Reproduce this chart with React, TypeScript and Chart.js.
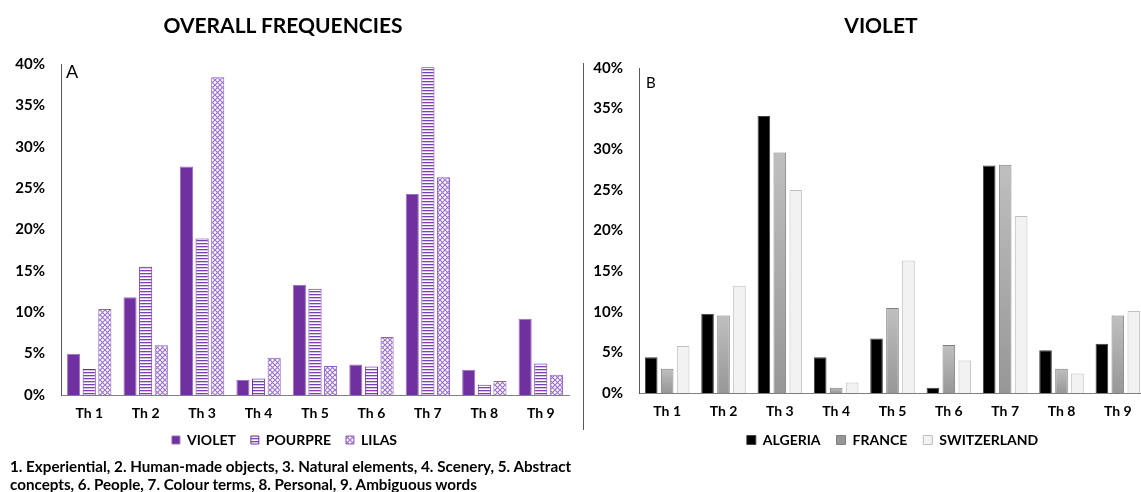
import React, { useEffect, useRef } from 'react';
import { Chart, registerables } from 'chart.js';

Chart.register(...registerables);

// ---- Data ----
const themes = ['Th 1', 'Th 2', 'Th 3', 'Th 4', 'Th 5', 'Th 6', 'Th 7', 'Th 8', 'Th 9'];
const violetOverall = [5.0, 11.8, 27.6, 1.8, 13.3, 3.7, 24.3, 3.05, 9.2];
const pourpreOverall = [3.15, 15.5, 18.9, 2.0, 12.85, 3.45, 39.6, 1.25, 3.8];
const lilasOverall = [10.4, 6.0, 38.4, 4.5, 3.5, 7.0, 26.3, 1.7, 2.45];
const algeria = [4.4, 9.75, 34.1, 4.4, 6.7, 0.65, 28.0, 5.25, 6.05];
const france = [3.0, 9.55, 29.6, 0.65, 10.45, 5.9, 28.1, 3.0, 9.55];
const switzerland = [5.8, 13.2, 25.0, 1.3, 16.3, 4.0, 21.8, 2.4, 10.1];
const yMax = 40;
const yStep = 5;
const leftTitle = 'OVERALL FREQUENCIES';
const rightTitle = 'VIOLET';
const footnoteLines = [
  '1. Experiential, 2. Human-made objects, 3. Natural elements, 4. Scenery, 5. Abstract',
  'concepts, 6. People, 7. Colour terms, 8. Personal, 9. Ambiguous words',
];

const FONT = 'Lato, "Open Sans", sans-serif';
const PURPLE = '#7030A0';

function stripePattern(): CanvasPattern | string {
  const c = document.createElement('canvas');
  c.width = 4; c.height = 3;
  const g = c.getContext('2d');
  if (!g) return PURPLE;
  g.fillStyle = '#ffffff'; g.fillRect(0, 0, 4, 3);
  g.fillStyle = '#7a3fb0'; g.fillRect(0, 0, 4, 1.3);
  return g.createPattern(c, 'repeat') || PURPLE;
}

function crossPattern(): CanvasPattern | string {
  const c = document.createElement('canvas');
  c.width = 5; c.height = 5;
  const g = c.getContext('2d');
  if (!g) return '#a07ad0';
  g.fillStyle = '#ffffff'; g.fillRect(0, 0, 5, 5);
  g.strokeStyle = '#9c72cc';
  g.lineWidth = 1.2;
  g.beginPath();
  g.moveTo(0, 0); g.lineTo(5, 5);
  g.moveTo(5, 0); g.lineTo(0, 5);
  g.stroke();
  return g.createPattern(c, 'repeat') || '#a07ad0';
}

const xTickFont = { family: FONT, weight: 'bold' as const, size: 14 };
const yTickFont = { family: FONT, weight: 'bold' as const, size: 15 };

function baseOptions(
  yWidth: number, xHeight: number, pad: any, legendPadding: number, box: number, legendFull: boolean,
) {
  return {
    responsive: false,
    animation: false as const,
    layout: { padding: pad },
    plugins: {
      tooltip: { enabled: false },
      title: { display: false },
      legend: {
        display: true,
        position: 'bottom' as const,
        fullSize: legendFull,
        labels: {
          boxWidth: box,
          boxHeight: box,
          padding: legendPadding,
          color: '#000',
          font: { family: FONT, weight: 'bold' as const, size: 14 },
        },
      },
    },
    scales: {
      x: {
        grid: { display: false, drawTicks: false },
        border: { display: true, color: '#7f7f7f', width: 1 },
        ticks: { color: '#000', font: xTickFont, padding: 10, maxRotation: 0 },
        afterFit: (s: any) => { s.height = xHeight; },
      },
      y: {
        min: 0,
        max: yMax,
        grid: { display: false, drawTicks: false },
        border: { display: true, color: '#595959', width: 1 },
        ticks: {
          stepSize: yStep,
          color: '#000',
          font: yTickFont,
          padding: 16,
          callback: (v: any) => `${v}%`,
        },
        afterFit: (s: any) => { s.width = yWidth; },
      },
    },
  };
}

function LeftChart() {
  const ref = useRef<HTMLCanvasElement>(null);
  useEffect(() => {
    if (!ref.current) return;
    const chart = new Chart(ref.current, {
      type: 'bar',
      data: {
        labels: themes,
        datasets: [
          {
            label: 'VIOLET', data: violetOverall, backgroundColor: PURPLE,
            borderColor: '#9b72c4', borderWidth: 1,
            categoryPercentage: 0.83, barPercentage: 0.84,
          },
          {
            label: 'POURPRE', data: pourpreOverall, backgroundColor: stripePattern(),
            borderColor: PURPLE, borderWidth: 1,
            categoryPercentage: 0.83, barPercentage: 0.84,
          },
          {
            label: 'LILAS', data: lilasOverall, backgroundColor: crossPattern(),
            borderColor: '#8f5fc2', borderWidth: 1,
            categoryPercentage: 0.83, barPercentage: 0.84,
          },
        ],
      },
      options: baseOptions(61, 23, { top: 64, right: 1, bottom: 3, left: 0 }, 15, 8, true) as any,
    });
    return () => chart.destroy();
  }, []);
  return <canvas ref={ref} width={570} height={460}
    style={{ position: 'absolute', left: 0, top: 0, width: 570, height: 460 }} />;
}

function RightChart() {
  const ref = useRef<HTMLCanvasElement>(null);
  useEffect(() => {
    if (!ref.current) return;
    const franceFill = (c: any) => {
      const chart = c.chart;
      const y = chart.scales && chart.scales.y;
      if (!chart.chartArea || !y || typeof c.raw !== 'number') return '#a9a9a9';
      const top = y.getPixelForValue(c.raw);
      const bot = y.getPixelForValue(0);
      const g = chart.ctx.createLinearGradient(0, top, 0, bot);
      g.addColorStop(0, '#bfbfbf');
      g.addColorStop(1, '#979797');
      return g;
    };
    const chart = new Chart(ref.current, {
      type: 'bar',
      data: {
        labels: themes,
        datasets: [
          {
            label: 'ALGERIA', data: algeria, backgroundColor: '#000000',
            borderColor: '#404040', borderWidth: 1,
            categoryPercentage: 0.85, barPercentage: 0.79,
          },
          {
            label: 'FRANCE', data: france, backgroundColor: franceFill,
            borderColor: '#7f7f7f', borderWidth: 1,
            categoryPercentage: 0.85, barPercentage: 0.79,
          },
          {
            label: 'SWITZERLAND', data: switzerland, backgroundColor: '#f2f2f2',
            borderColor: '#bfbfbf', borderWidth: 1,
            categoryPercentage: 0.85, barPercentage: 0.79,
          },
        ],
      },
      options: baseOptions(54, 24, { top: 68, right: 43, bottom: 3, left: 0 }, 16, 9, false) as any,
    });
    return () => chart.destroy();
  }, []);
  return <canvas ref={ref} width={604} height={460}
    style={{ position: 'absolute', left: 585, top: 0, width: 604, height: 460 }} />;
}

export default function App() {
  return (
    <div style={{
      position: 'fixed', left: 0, top: 0, width: 1141, height: 492,
      overflow: 'hidden', background: '#fff', fontFamily: FONT, color: '#000',
    }}>
      <LeftChart />
      <RightChart />
      <div style={{ position: 'absolute', left: 583, top: 63, width: 1, height: 367, background: '#595959' }} />
      <div style={{
        position: 'absolute', left: 83, width: 400, top: 12, textAlign: 'center',
        fontWeight: 700, fontSize: 21, lineHeight: '26px',
      }}>{leftTitle}</div>
      <div style={{
        position: 'absolute', left: 681, width: 400, top: 12, textAlign: 'center',
        fontWeight: 700, fontSize: 21, lineHeight: '26px',
      }}>{rightTitle}</div>
      <div style={{ position: 'absolute', left: 66, top: 60, fontSize: 18, lineHeight: '22px' }}>A</div>
      <div style={{ position: 'absolute', left: 646, top: 73, fontSize: 15, lineHeight: '18px' }}>B</div>
      <div style={{
        position: 'absolute', left: 10, top: 457, fontWeight: 700, fontSize: 15.2,
        lineHeight: '18px', whiteSpace: 'nowrap',
      }}>
        {footnoteLines.map((l, i) => <div key={i}>{l}</div>)}
      </div>
    </div>
  );
}
